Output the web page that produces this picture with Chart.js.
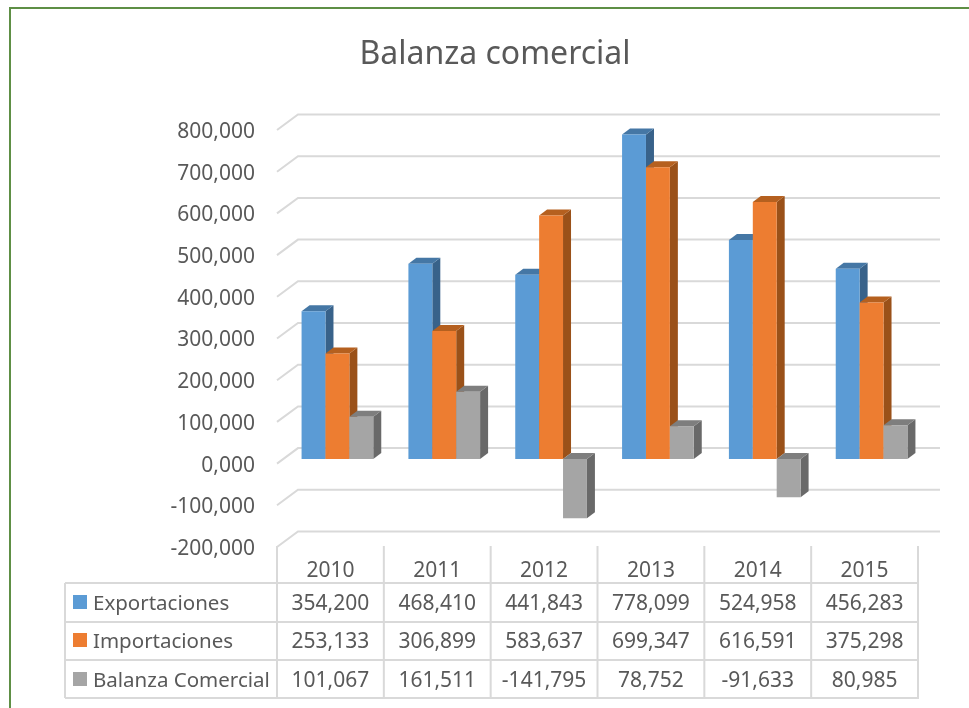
<!DOCTYPE html>
<html>
<head>
<meta charset="utf-8">
<script src="https://cdn.jsdelivr.net/npm/chart.js@4"></script>
<style>
html,body{margin:0;padding:0;background:#fff;overflow:hidden}
#wrap{width:969px;height:708px;position:relative}
</style>
</head>
<body>
<div id="wrap"><canvas id="c" width="969" height="708"></canvas></div>
<script>
const categories = ['2010','2011','2012','2013','2014','2015'];
const exportaciones = [354200,468410,441843,778099,524958,456283];
const importaciones = [253133,306899,583637,699347,616591,375298];
const balanza = [101067,161511,-141795,78752,-91633,80985];
const seriesNames = ['Exportaciones','Importaciones','Balanza Comercial'];
const seriesValues = [exportaciones,importaciones,balanza];
const colors = ['#5B9BD5','#ED7D31','#A5A5A5'];
const sideColors = ['#38628A','#9A5119','#696969'];
const topColors = ['#4577A5','#B5601F','#7E7E7E'];
const titleText = 'Balanza comercial';

const FONT = '"Noto Sans", sans-serif';
const TEXT = '#595959';
const GRID = '#D9D9D9';
const fmt = v => {
  const s = Math.abs(v).toLocaleString('en-US');
  return (v < 0 ? '-' : '') + s;
};
const tickFmt = v => {
  const a = Math.abs(v);
  const s = a === 0 ? '0,000' : a.toLocaleString('en-US');
  return (v < 0 ? '-' : '') + s;
};

const frontLift = -2;
const wall = { dx: 21, dy: -15.5, rightEnd: 940 };
const barShift = { x: 7, y: -6.6 };
const depth = { x: 8, y: 6 };
const table = { left: 65, rows: [583, 622, 660, 698], bottom: 698, top: 546 };

const plugin3d = {
  id: 'plugin3d',
  beforeDraw(chart) {
    const { ctx, scales: { x, y }, chartArea: a } = chart;
    ctx.save();
    // outer frame
    ctx.strokeStyle = '#5E8F45';
    ctx.lineWidth = 2;
    ctx.beginPath();
    ctx.moveTo(10, 708); ctx.lineTo(10, 8); ctx.lineTo(969, 8);
    ctx.stroke();
    // walls
    ctx.strokeStyle = GRID;
    ctx.lineWidth = 2;
    y.ticks.forEach(t => {
      const py = y.getPixelForValue(t.value) + frontLift;
      ctx.beginPath();
      ctx.moveTo(a.left, py);
      ctx.lineTo(a.left + wall.dx, py + wall.dy);
      ctx.lineTo(wall.rightEnd, py + wall.dy);
      ctx.stroke();
    });
    // table lines
    ctx.beginPath();
    const n = categories.length;
    const step = x.getPixelForValue(1) - x.getPixelForValue(0);
    for (let i = 0; i <= n; i++) {
      const px = i < n ? x.getPixelForValue(i) - step / 2 : x.getPixelForValue(n - 1) + step / 2;
      ctx.moveTo(px, table.top); ctx.lineTo(px, table.bottom);
    }
    table.rows.forEach(ry => { ctx.moveTo(table.left, ry); ctx.lineTo(a.right + 1, ry); });
    ctx.moveTo(table.left, table.rows[0]); ctx.lineTo(table.left, table.bottom);
    ctx.stroke();
    ctx.restore();
  },
  beforeDatasetsDraw(chart) {
    const ctx = chart.ctx;
    ctx.save();
    ctx.translate(barShift.x, barShift.y);
    chart.data.datasets.forEach((ds, i) => {
      const meta = chart.getDatasetMeta(i);
      meta.data.forEach(el => {
        const p = el.getProps(['x','y','base','width']);
        const l = p.x - p.width / 2, r = p.x + p.width / 2;
        const t = Math.min(p.y, p.base), b = Math.max(p.y, p.base);
        ctx.fillStyle = sideColors[i];
        ctx.beginPath();
        ctx.moveTo(r, t); ctx.lineTo(r + depth.x, t - depth.y);
        ctx.lineTo(r + depth.x, b - depth.y); ctx.lineTo(r, b);
        ctx.closePath(); ctx.fill();
        ctx.fillStyle = topColors[i];
        ctx.beginPath();
        ctx.moveTo(l, t); ctx.lineTo(l + depth.x, t - depth.y);
        ctx.lineTo(r + depth.x, t - depth.y); ctx.lineTo(r, t);
        ctx.closePath(); ctx.fill();
      });
      meta.controller.draw();
    });
    ctx.restore();
    return false;
  },
  afterDraw(chart) {
    const { ctx, scales: { x } } = chart;
    ctx.save();
    ctx.fillStyle = TEXT;
    ctx.textBaseline = 'middle';
    const centers = [602, 640, 679];
    seriesNames.forEach((name, i) => {
      const cy = centers[i];
      ctx.fillStyle = colors[i];
      ctx.fillRect(73, cy - 7, 14, 14);
      ctx.fillStyle = TEXT;
      ctx.textAlign = 'left';
      ctx.font = '20.5px ' + FONT;
      ctx.fillText(name, 93, cy + 2);
      ctx.textAlign = 'center';
      ctx.font = '21px ' + FONT;
      seriesValues[i].forEach((v, j) => {
        ctx.fillText(fmt(v), x.getPixelForValue(j), cy + 2);
      });
    });
    ctx.restore();
  }
};

new Chart(document.getElementById('c'), {
  type: 'bar',
  data: {
    labels: categories,
    datasets: seriesNames.map((name, i) => ({
      label: name,
      data: seriesValues[i],
      backgroundColor: colors[i],
      borderWidth: 0,
      categoryPercentage: 0.671,
      barPercentage: 1
    }))
  },
  options: {
    responsive: false,
    animation: false,
    layout: { padding: { left: 72, right: 51, top: 0, bottom: 0 } },
    plugins: {
      legend: { display: false },
      tooltip: { enabled: false },
      title: {
        display: true,
        text: titleText,
        color: TEXT,
        font: { family: FONT, size: 32, weight: 'normal', lineHeight: 1.2 },
        padding: { top: 36, bottom: 57.6 }
      }
    },
    scales: {
      x: {
        grid: { display: false, drawTicks: false },
        border: { display: false },
        ticks: { color: TEXT, font: { family: FONT, size: 21 }, padding: 9, maxRotation: 0 },
        afterFit(s) { s.height = 159; }
      },
      y: {
        min: -200000,
        max: 800000,
        grid: { display: false, drawTicks: false },
        border: { display: false },
        ticks: {
          stepSize: 100000,
          color: TEXT,
          font: { family: FONT, size: 21 },
          padding: 22,
          callback: v => tickFmt(v)
        },
        afterFit(s) { s.width = 205; }
      }
    }
  },
  plugins: [plugin3d]
});
</script>
</body>
</html>
